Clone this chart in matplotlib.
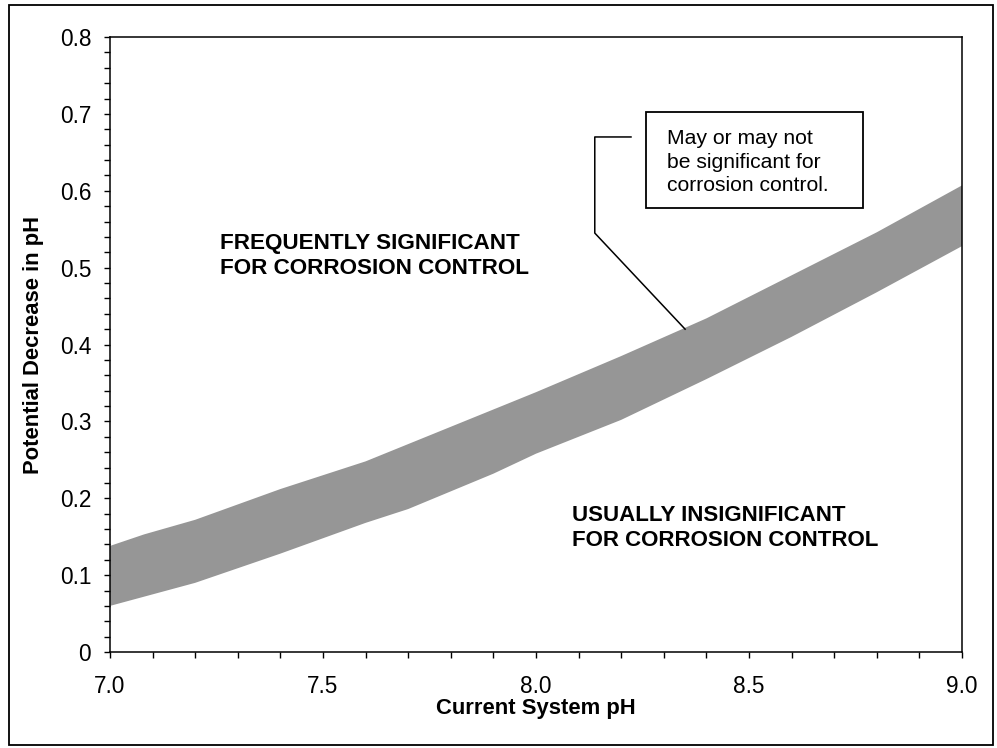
import numpy as np
import matplotlib
matplotlib.use("Agg")
from matplotlib import pyplot as plt
from matplotlib.ticker import MultipleLocator, FuncFormatter
from matplotlib.patches import Rectangle

plt.rcParams['font.family'] = ['Liberation Sans', 'DejaVu Sans']

# band edges
ph_upper = [7.0, 7.08, 7.2, 7.4, 7.6, 7.8, 8.0, 8.2, 8.4, 8.6, 8.8, 9.0]
dec_upper = [0.138, 0.153, 0.172, 0.212, 0.248, 0.293, 0.338, 0.385, 0.434, 0.490, 0.546, 0.607]
ph_lower = [7.0, 7.2, 7.4, 7.6, 7.7, 7.9, 8.0, 8.2, 8.4, 8.6, 8.8, 9.0]
dec_lower = [0.060, 0.090, 0.128, 0.168, 0.186, 0.232, 0.258, 0.302, 0.355, 0.410, 0.468, 0.528]

# callout leader (data coords)
leader_x = [8.223, 8.138, 8.138, 8.350]
leader_y = [0.670, 0.670, 0.545, 0.420]

fig = plt.figure(figsize=(9.97, 7.48), dpi=100)
ax = fig.add_axes([0.1103, 0.1283, 0.8546, 0.8222])

# polygon for the band: upper edge forward, lower edge back
bx = ph_upper + ph_lower[::-1]
by = dec_upper + dec_lower[::-1]
ax.fill(bx, by, color='#969696', lw=0)

ax.set_xlim(7.0, 9.0)
ax.set_ylim(0, 0.8)
ax.xaxis.set_major_locator(MultipleLocator(0.5))
ax.xaxis.set_minor_locator(MultipleLocator(0.1))
ax.yaxis.set_major_locator(MultipleLocator(0.1))
ax.yaxis.set_minor_locator(MultipleLocator(0.02))
ax.xaxis.set_major_formatter(FuncFormatter(lambda v, p: f'{v:.1f}'))
ax.yaxis.set_major_formatter(FuncFormatter(lambda v, p: '0' if abs(v) < 1e-9 else f'{v:.1f}'))

ax.tick_params(which='both', direction='out', width=1.0, color='black')
ax.tick_params(which='major', length=4.5, labelsize=16.3)
ax.tick_params(which='minor', length=4)
ax.tick_params(axis='x', which='major', pad=12)
ax.tick_params(axis='y', which='major', pad=9)
for s in ax.spines.values():
    s.set_linewidth(1.1)

ax.set_xlabel('Current System pH', fontsize=15.8, fontweight='bold', labelpad=0)
ax.set_ylabel('Potential Decrease in pH', fontsize=15.8, fontweight='bold', labelpad=11)

ax.text(7.258, 0.545, 'FREQUENTLY SIGNIFICANT\nFOR CORROSION CONTROL',
        fontsize=16.2, fontweight='bold', va='top', ha='left', linespacing=1.22)
ax.text(8.085, 0.191, 'USUALLY INSIGNIFICANT\nFOR CORROSION CONTROL',
        fontsize=16.0, fontweight='bold', va='top', ha='left', linespacing=1.22)

# callout box
ax.add_patch(Rectangle((8.258, 0.578), 0.510, 0.124, fill=False, ec='black', lw=1.3, zorder=3))
ax.text(8.307, 0.680, 'May or may not\nbe significant for\ncorrosion control.',
        fontsize=15.2, va='top', ha='left', linespacing=1.3)
ax.plot(leader_x, leader_y, color='black', lw=1.1)

# border round the whole figure
fig.patches.append(Rectangle((0.0095, 0.004), 0.9865, 0.989, transform=fig.transFigure,
                             fill=False, ec='black', lw=1.3))

fig.savefig('out.png', dpi=100)
